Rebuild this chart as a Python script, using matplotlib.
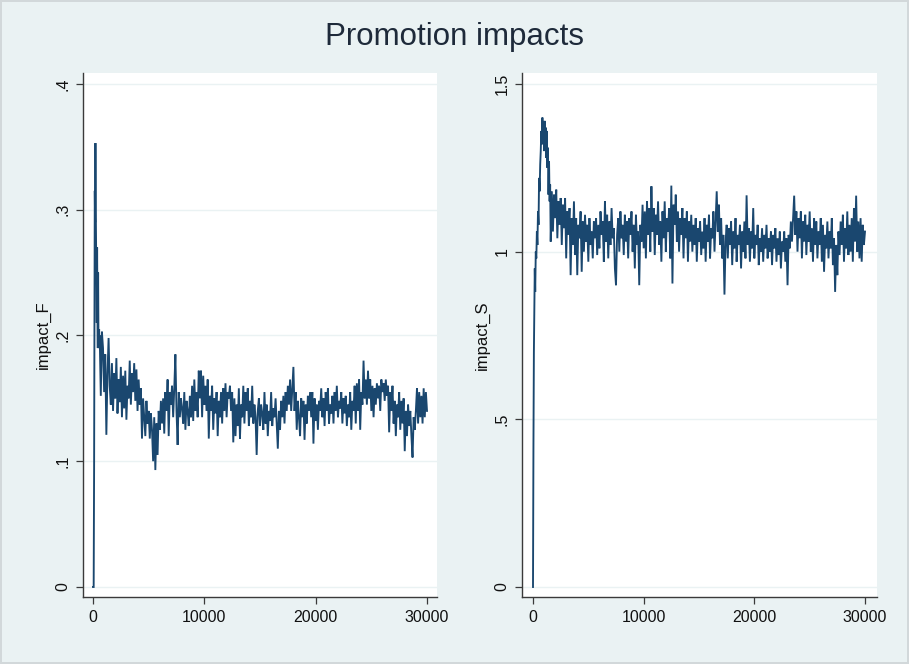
import numpy as np
import matplotlib
matplotlib.use("Agg")
import matplotlib.pyplot as plt

plt.rcParams['font.family'] = ['Liberation Sans', 'DejaVu Sans']

title = "Promotion impacts"
xticks = [0, 10000, 20000, 30000]
xtick_labels = ["0", "10000", "20000", "30000"]

f_label = "impact_F"
f_yticks = [0, 0.1, 0.2, 0.3, 0.4]
f_ytick_labels = ["0", ".1", ".2", ".3", ".4"]

s_label = "impact_S"
s_yticks = [0, 0.5, 1.0, 1.5]
s_ytick_labels = ["0", ".5", "1", "1.5"]

# impact_F: early (fine resolution) then every 100 steps from 600
f_early_t = [0, 60, 100, 130, 160, 190, 220, 250, 280, 310, 340, 370, 400, 430, 460, 490, 520, 550, 580]
f_early = [0, 0.0, 0.095, 0.22, 0.315, 0.29, 0.353, 0.30, 0.27, 0.24, 0.21, 0.27, 0.22, 0.19, 0.25, 0.20, 0.19, 0.205, 0.19]
f_t0, f_dt = 600, 100
f_vals = [
    0.200, 0.152, 0.203, 0.190, 0.155, 0.185, 0.121, 0.170, 0.198, 0.160,
    0.145, 0.178, 0.140, 0.170, 0.150, 0.182, 0.138, 0.165, 0.147, 0.175,
    0.135, 0.168, 0.142, 0.172, 0.133, 0.160, 0.150, 0.180, 0.145, 0.170,
    0.155, 0.178, 0.148, 0.173, 0.140, 0.165, 0.145, 0.158, 0.118, 0.150,
    0.135, 0.120, 0.148, 0.130, 0.140, 0.118, 0.138, 0.125, 0.100, 0.135,
    0.093, 0.130, 0.105, 0.140, 0.125, 0.148, 0.130, 0.150, 0.122, 0.155,
    0.140, 0.165, 0.120, 0.155, 0.145, 0.160, 0.135, 0.158, 0.185, 0.140,
    0.113, 0.155, 0.135, 0.150, 0.142, 0.130, 0.155, 0.125, 0.148, 0.140,
    0.128, 0.152, 0.135, 0.160, 0.132, 0.165, 0.140, 0.155, 0.135, 0.172,
    0.150, 0.172, 0.135, 0.168, 0.145, 0.160, 0.140, 0.165, 0.118, 0.152,
    0.140, 0.160, 0.125, 0.150, 0.138, 0.155, 0.120, 0.148, 0.135, 0.155,
    0.130, 0.158, 0.140, 0.162, 0.135, 0.155, 0.150, 0.160, 0.140, 0.155,
    0.115, 0.150, 0.120, 0.145, 0.128, 0.158, 0.118, 0.145, 0.135, 0.160,
    0.130, 0.155, 0.140, 0.158, 0.128, 0.148, 0.135, 0.160, 0.130, 0.145,
    0.135, 0.105, 0.140, 0.150, 0.128, 0.145, 0.138, 0.125, 0.155, 0.130,
    0.145, 0.120, 0.140, 0.132, 0.155, 0.128, 0.142, 0.135, 0.150, 0.130,
    0.110, 0.140, 0.125, 0.148, 0.135, 0.152, 0.130, 0.155, 0.140, 0.160,
    0.145, 0.165, 0.140, 0.158, 0.175, 0.140, 0.155, 0.125, 0.148, 0.135,
    0.120, 0.150, 0.135, 0.148, 0.117, 0.145, 0.130, 0.152, 0.140, 0.155,
    0.135, 0.155, 0.114, 0.150, 0.132, 0.145, 0.125, 0.148, 0.140, 0.158,
    0.135, 0.150, 0.128, 0.155, 0.140, 0.158, 0.130, 0.145, 0.138, 0.152,
    0.130, 0.155, 0.140, 0.160, 0.135, 0.148, 0.142, 0.155, 0.130, 0.150,
    0.138, 0.152, 0.128, 0.145, 0.135, 0.155, 0.125, 0.148, 0.140, 0.160,
    0.130, 0.162, 0.140, 0.165, 0.125, 0.155, 0.145, 0.180, 0.150, 0.165,
    0.145, 0.172, 0.150, 0.165, 0.140, 0.160, 0.135, 0.158, 0.145, 0.162,
    0.150, 0.160, 0.140, 0.165, 0.155, 0.162, 0.148, 0.165, 0.152, 0.160,
    0.123, 0.155, 0.140, 0.160, 0.130, 0.148, 0.120, 0.145, 0.135, 0.155,
    0.125, 0.148, 0.130, 0.150, 0.108, 0.140, 0.120, 0.145, 0.128, 0.140,
    0.120, 0.103, 0.135, 0.125, 0.140, 0.158, 0.130, 0.155, 0.135, 0.152,
    0.130, 0.158, 0.135, 0.155, 0.140,
]

# impact_S: early (fine resolution) then every 100 steps from 1600
s_early_t = [0, 40, 80, 120, 160, 200, 250, 300, 350, 400, 450, 500, 550, 600, 650, 700,
             750, 800, 850, 900, 950, 1000, 1050, 1100, 1150, 1200, 1250, 1300, 1350,
             1400, 1450, 1500, 1550]
s_early = [0, 0.42, 0.70, 0.82, 0.95, 0.88, 1.00, 0.98, 1.06, 1.02, 1.12, 1.08, 1.22, 1.18,
           1.26, 1.30, 1.36, 1.32, 1.40, 1.34, 1.38, 1.30, 1.39, 1.33, 1.37, 1.28, 1.36,
           1.25, 1.31, 1.17, 1.27, 1.15, 1.20]
s_t0, s_dt = 1600, 100
s_vals = [
    1.03, 1.18, 1.06, 1.17, 1.10, 1.185, 1.04, 1.15, 1.08, 1.16,
    1.02, 1.14, 1.07, 1.16, 0.98, 1.12, 1.05, 1.13, 0.93, 1.10,
    1.02, 1.15, 0.99, 1.10, 0.93, 1.08, 1.04, 1.12, 0.94, 1.09,
    1.00, 1.11, 1.03, 1.08, 0.97, 1.10, 1.02, 1.06, 0.98, 1.09,
    1.04, 1.10, 0.99, 1.08, 1.01, 1.12, 1.05, 1.09, 0.97, 1.15,
    1.03, 1.11, 0.98, 1.09, 1.02, 1.13, 1.04, 1.07, 0.95, 0.90,
    1.05, 1.10, 1.00, 1.12, 1.04, 1.08, 0.99, 1.11, 1.03, 1.09,
    0.98, 1.10, 1.05, 1.12, 1.00, 1.08, 0.95, 1.11, 1.02, 1.06,
    0.90, 1.08, 1.03, 1.14, 1.01, 1.12, 0.98, 1.15, 1.05, 1.13,
    1.00, 1.195, 1.06, 1.13, 0.99, 1.11, 1.05, 1.15, 1.02, 1.09,
    0.97, 1.12, 1.04, 1.15, 1.00, 1.10, 1.06, 1.13, 0.98, 1.197,
    0.905, 1.14, 1.08, 1.17, 1.03, 1.12, 1.00, 1.10, 1.05, 1.13,
    0.98, 1.10, 1.04, 1.12, 0.97, 1.09, 1.03, 1.11, 1.00, 1.08,
    1.02, 1.10, 0.97, 1.07, 1.03, 1.09, 0.99, 1.06, 1.01, 1.10,
    0.97, 1.08, 1.03, 1.11, 0.98, 1.07, 1.04, 1.12, 1.00, 1.09,
    1.18, 1.06, 1.14, 1.02, 1.10, 0.98, 1.05, 0.872, 1.03, 1.08,
    0.98, 1.07, 1.02, 1.09, 0.96, 1.06, 1.01, 1.10, 0.97, 1.05,
    1.02, 1.08, 0.95, 1.06, 1.00, 1.09, 0.98, 1.168, 1.02, 1.07,
    0.97, 1.06, 1.01, 1.13, 0.98, 1.05, 1.02, 1.08, 0.96, 1.04,
    1.00, 1.07, 0.97, 1.05, 1.01, 1.08, 0.98, 1.04, 1.00, 1.06,
    0.96, 1.05, 1.01, 1.07, 0.97, 1.04, 0.99, 1.06, 0.95, 1.03,
    1.00, 1.06, 0.97, 1.04, 0.90, 1.05, 1.01, 1.09, 1.03, 1.10,
    1.167, 1.05, 1.12, 1.00, 1.10, 1.04, 1.12, 0.98, 1.09, 1.03,
    1.11, 0.99, 1.08, 1.03, 1.12, 1.00, 1.07, 0.97, 1.10, 1.02,
    1.09, 0.98, 1.06, 1.02, 1.10, 0.97, 1.08, 0.94, 1.05, 1.01,
    1.09, 0.98, 1.06, 1.01, 1.10, 0.96, 1.04, 0.88, 1.02, 0.93,
    1.06, 0.99, 1.09, 1.02, 1.11, 0.97, 1.07, 1.01, 1.12, 0.99,
    1.08, 1.00, 1.10, 0.97, 1.13, 1.03, 1.167, 1.00, 1.09, 0.98,
    1.10, 0.97, 1.08, 1.02, 1.06,
]

f_t = np.concatenate([f_early_t, f_t0 + f_dt * np.arange(len(f_vals))])
f_y = np.concatenate([f_early, f_vals])
s_t = np.concatenate([s_early_t, s_t0 + s_dt * np.arange(len(s_vals))])
s_y = np.concatenate([s_early, s_vals])

BG = "#EAF2F3"
LINE = "#1A476F"

fig = plt.figure(figsize=(9.09, 6.64), dpi=100)
fig.patch.set_facecolor(BG)
fig.patch.set_edgecolor("#D2D8DA")
fig.patch.set_linewidth(1.5)

W, H = 909, 664

def make_ax(left_px, right_px, top_px, bottom_px):
    return fig.add_axes([left_px / W, 1 - bottom_px / H,
                         (right_px - left_px) / W, (bottom_px - top_px) / H])

panels = [
    (make_ax(83, 437, 73, 597), f_t, f_y, f_yticks, f_ytick_labels, f_label,
     (-898, 30898), (-0.00795, 0.4087)),
    (make_ax(522, 877, 73, 597), s_t, s_y, s_yticks, s_ytick_labels, s_label,
     (-994, 31084), (-0.0298, 1.5328)),
]

for ax, t, y, yt, ytl, lab, xl, yl in panels:
    ax.set_facecolor("white")
    ax.plot(t, y, color=LINE, lw=1.35, solid_joinstyle="miter", zorder=3)
    ax.set_xlim(*xl)
    ax.set_ylim(*yl)
    ax.set_xticks(xticks)
    ax.set_xticklabels(xtick_labels)
    ax.set_yticks(yt)
    ax.set_yticklabels(ytl, rotation=90, va="center")
    for v in yt:
        ax.axhline(v, color=BG, lw=1.0, zorder=1)
    for side in ("top", "right"):
        ax.spines[side].set_visible(False)
    for side in ("left", "bottom"):
        ax.spines[side].set_color("#3A3A3A")
        ax.spines[side].set_linewidth(1.0)
    ax.tick_params(axis="both", direction="out", length=5, width=0.9,
                   color="#3A3A3A", labelsize=11.5, labelcolor="#111111")
    ax.tick_params(axis="x", pad=4)
    ax.tick_params(axis="y", pad=4)
    ax.set_ylabel(lab, fontsize=12, color="#111111", labelpad=3)

fig.text(0.5, 1 - 37 / H, title, ha="center", va="center", fontsize=22.5,
         color="#1E2A3A")

fig.savefig("out.png", dpi=100, facecolor=fig.get_facecolor(),
            edgecolor=fig.get_edgecolor())
